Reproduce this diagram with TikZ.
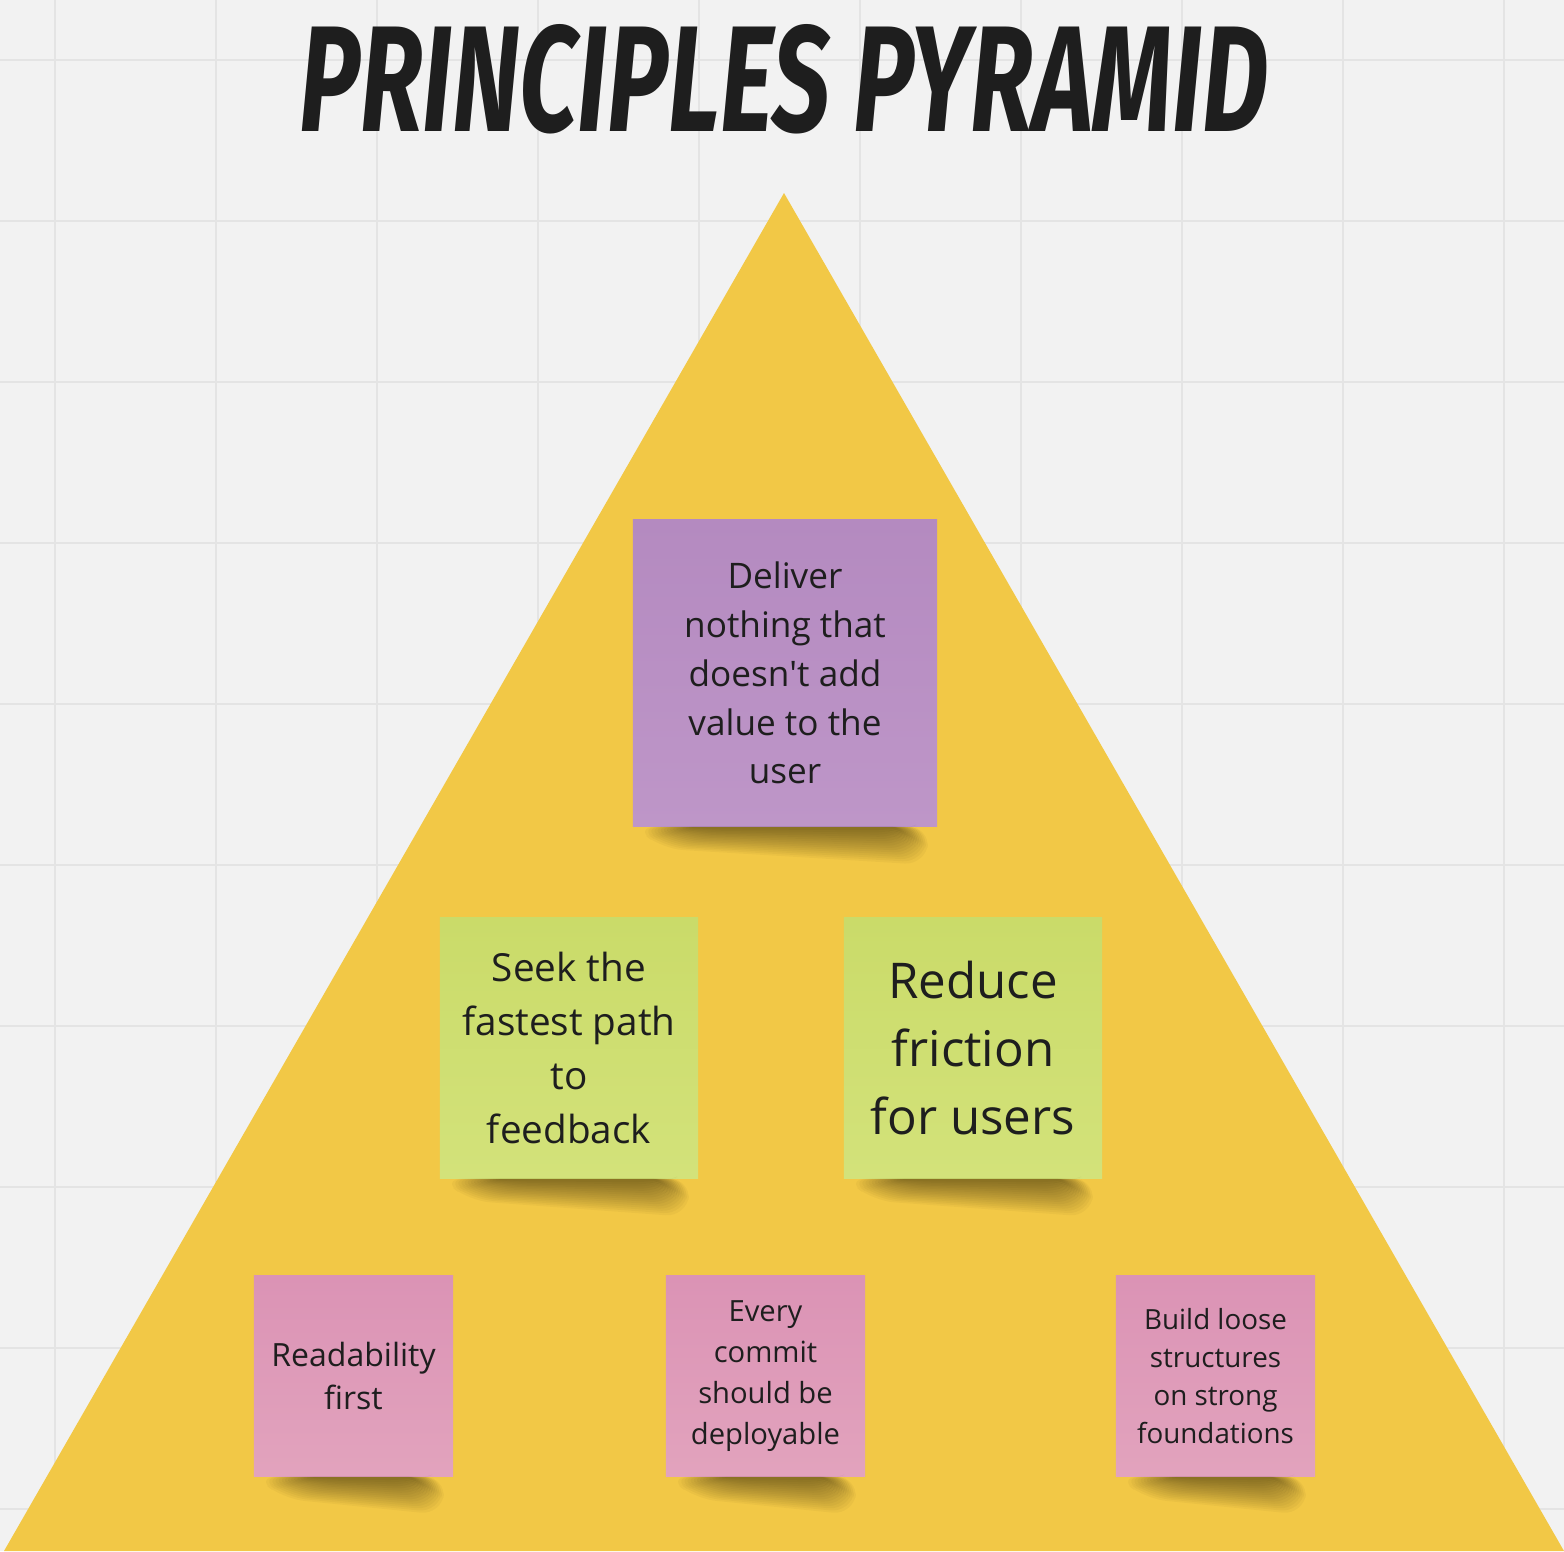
\documentclass[tikz,border=0pt]{standalone}
\usepackage{fontspec}
\setmainfont{Open Sans}
\newfontfamily\titlefont{Fira Sans}
\usetikzlibrary{calc}
\definecolor{canvas}{HTML}{F2F2F2}
\definecolor{gridline}{HTML}{E4E4E4}
\definecolor{pyramid}{HTML}{F2C846}
\definecolor{ink}{HTML}{1E1E1E}
\definecolor{purpleA}{HTML}{B48AC0}
\definecolor{purpleB}{HTML}{BE96C8}
\definecolor{greenA}{HTML}{CADB69}
\definecolor{greenB}{HTML}{D3E27A}
\definecolor{pinkA}{HTML}{DB93B5}
\definecolor{pinkB}{HTML}{E2A3BD}
\tikzstyle{Note}=[rectangle, inner sep=0pt, align=center, text=ink]
\tikzstyle{Purple}=[Note, top color=purpleA, bottom color=purpleB, minimum width=3.04cm, minimum height=3.06cm]
\tikzstyle{Green}=[Note, top color=greenA, bottom color=greenB, minimum width=2.58cm, minimum height=2.60cm]
\tikzstyle{Pink}=[Note, top color=pinkA, bottom color=pinkB, minimum width=1.99cm, minimum height=2.00cm]
% soft shadow under the bottom edge of a note, heavier on the right
\newcommand{\noteshadow}[1]{%
  \foreach \k in {0,...,15}
    \fill[black, opacity=0.03, rounded corners=6pt]
      ($(#1.south west)+(2+3*\k,0)$) -- ($(#1.south east)+(-8-1.4*\k,0)$)
      -- ($(#1.south east)+(-12-2.2*\k,38-2.3*\k)$) -- ($(#1.south west)+(30+3*\k,22-1.3*\k)$) -- cycle;
}

\begin{document}
\begin{tikzpicture}[x=0.01cm, y=-0.01cm]
    \useasboundingbox (0,0) rectangle (1564,1551);
    \fill[canvas] (0,0) rectangle (1564,1551);
    \foreach \gx in {55,216,...,1504}
        \draw[gridline, line width=0.6pt] (\gx,0) -- (\gx,1551);
    \foreach \gy in {60,221,...,1509}
        \draw[gridline, line width=0.6pt] (0,\gy) -- (1564,\gy);

    \fill[pyramid] (784,193) -- (4,1551) -- (1564,1551) -- cycle;

    \path
    (784,79) node[text=ink] (title) {\resizebox{9.68cm}{1.07cm}{\titlefont\bfseries\itshape PRINCIPLES PYRAMID}};

    \path
    (785,673) node[Purple, font={\fontsize{10}{13.9}\selectfont}] (deliver) {Deliver\\nothing that\\doesn\textquotesingle t add\\value to the\\user}
    (569,1048) node[Green, font={\fontsize{11}{15.4}\selectfont}] (seek) {Seek the\\fastest path\\to\\feedback}
    (973,1048) node[Green, font={\fontsize{14}{19.2}\selectfont}] (reduce) {Reduce\\friction\\for users};

    \path
    (353.5,1376) node[Pink, font={\fontsize{9.1}{12.2}\selectfont}] (readability) {Readability\\first}
    (765.5,1376) node[Pink, font={\fontsize{8.3}{11.7}\selectfont}] (commit) {Every\\commit\\should be\\deployable}
    (1215.5,1376) node[Pink, font={\fontsize{7.9}{10.8}\selectfont}] (build) {Build loose\\structures\\on strong\\foundations};

    \noteshadow{deliver}
    \noteshadow{seek}
    \noteshadow{reduce}
    \noteshadow{readability}
    \noteshadow{commit}
    \noteshadow{build}
\end{tikzpicture}
\end{document}
